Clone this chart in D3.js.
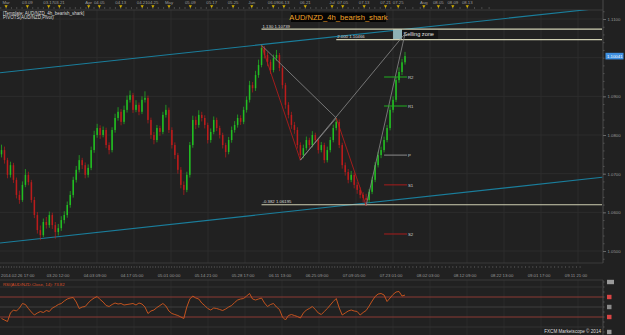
<!DOCTYPE html>
<html>
<head>
<meta charset="utf-8">
<script src="https://cdnjs.cloudflare.com/ajax/libs/d3/7.8.5/d3.min.js"></script>
<style>
  body { margin: 0; background: #212121; }
  svg { display: block; font-family: "Liberation Sans", Arial, sans-serif; }
</style>
</head>
<body>
<div id="chart"></div>
<script>
// ---- Data ----
const firstOpen = 1.0750;
const closes = [
  1.0761,1.0735,1.0697,1.0722,1.0684,1.0645,1.0632,1.0671,1.0697,1.0678,
  1.0632,1.0593,1.0554,1.0541,1.0575,1.0567,1.0593,1.0567,1.0549,1.0559,
  1.0580,1.0593,1.0619,1.0645,1.0684,1.0710,1.0735,1.0722,1.0697,1.0715,
  1.0761,1.0800,1.0818,1.0800,1.0813,1.0774,1.0761,1.0813,1.0844,1.0860,
  1.0834,1.0865,1.0891,1.0903,1.0865,1.0878,1.0860,1.0891,1.0896,1.0839,
  1.0800,1.0787,1.0818,1.0808,1.0852,1.0865,1.0813,1.0774,1.0748,1.0710,
  1.0671,1.0658,1.0697,1.0774,1.0839,1.0826,1.0852,1.0844,1.0826,1.0787,
  1.0808,1.0839,1.0818,1.0800,1.0774,1.0756,1.0787,1.0813,1.0826,1.0844,
  1.0834,1.0865,1.0891,1.0929,1.0921,1.0955,1.0981,1.1025,1.1007,1.0989,
  1.0968,1.0999,1.1007,1.0973,1.0929,1.0878,1.0852,1.0826,1.0813,1.0774,
  1.0748,1.0766,1.0787,1.0774,1.0800,1.0787,1.0761,1.0774,1.0735,1.0761,
  1.0787,1.0818,1.0834,1.0774,1.0722,1.0704,1.0684,1.0697,1.0671,1.0658,
  1.0645,1.0637,1.0632,1.0653,1.0684,1.0722,1.0748,1.0761,1.0787,1.0818,
  1.0865,1.0891,1.0942,1.0963,1.0988,1.1004
];
const highs = [
  1.0775,1.0770,1.0741,1.0731,1.0728,1.0690,1.0656,1.0680,1.0712,1.0705,
  1.0684,1.0640,1.0601,1.0566,1.0584,1.0588,1.0602,1.0599,1.0575,1.0570,
  1.0590,1.0603,1.0628,1.0655,1.0692,1.0720,1.0748,1.0741,1.0729,1.0724,
  1.0770,1.0811,1.0829,1.0825,1.0822,1.0819,1.0781,1.0820,1.0855,1.0872,
  1.0867,1.0876,1.0902,1.0915,1.0909,1.0890,1.0884,1.0900,1.0913,1.0902,
  1.0845,1.0808,1.0826,1.0824,1.0860,1.0878,1.0871,1.0820,1.0781,1.0754,
  1.0717,1.0680,1.0705,1.0782,1.0850,1.0848,1.0864,1.0860,1.0851,1.0832,
  1.0817,1.0848,1.0845,1.0824,1.0806,1.0780,1.0795,1.0822,1.0836,1.0853,
  1.0851,1.0873,1.0900,1.0940,1.0937,1.0966,1.0995,1.1032,1.1030,1.1014,
  1.0995,1.1008,1.1020,1.1012,1.0979,1.0935,1.0885,1.0860,1.0834,1.0820,
  1.0781,1.0775,1.0796,1.0793,1.0810,1.0806,1.0793,1.0782,1.0780,1.0770,
  1.0795,1.0827,1.0844,1.0840,1.0780,1.0729,1.0712,1.0707,1.0703,1.0678,
  1.0665,1.0652,1.0648,1.0660,1.0692,1.0730,1.0757,1.0770,1.0796,1.0826,
  1.0872,1.0900,1.0950,1.0975,1.0997,1.1015
];
const lows = [
  1.0742,1.0726,1.0688,1.0690,1.0676,1.0636,1.0622,1.0627,1.0665,1.0670,
  1.0625,1.0585,1.0545,1.0528,1.0536,1.0558,1.0560,1.0557,1.0532,1.0540,
  1.0552,1.0571,1.0586,1.0612,1.0638,1.0677,1.0703,1.0712,1.0688,1.0690,
  1.0709,1.0754,1.0793,1.0790,1.0794,1.0766,1.0750,1.0755,1.0806,1.0837,
  1.0825,1.0828,1.0858,1.0884,1.0857,1.0859,1.0851,1.0854,1.0884,1.0830,
  1.0790,1.0776,1.0781,1.0798,1.0802,1.0845,1.0805,1.0765,1.0738,1.0700,
  1.0662,1.0645,1.0652,1.0690,1.0767,1.0815,1.0819,1.0835,1.0817,1.0778,
  1.0780,1.0802,1.0810,1.0791,1.0765,1.0742,1.0750,1.0780,1.0806,1.0819,
  1.0826,1.0828,1.0858,1.0884,1.0910,1.0914,1.0948,1.0975,1.0998,1.0978,
  1.0958,1.0962,1.0992,1.0965,1.0920,1.0868,1.0843,1.0816,1.0803,1.0765,
  1.0735,1.0740,1.0760,1.0765,1.0768,1.0779,1.0752,1.0755,1.0727,1.0729,
  1.0755,1.0781,1.0812,1.0766,1.0713,1.0695,1.0675,1.0678,1.0662,1.0648,
  1.0636,1.0626,1.0617,1.0625,1.0647,1.0678,1.0716,1.0740,1.0755,1.0781,
  1.0812,1.0858,1.0885,1.0935,1.0955,1.0982
];
const rsiValues = [
  27,24,21,38,44,42,48,57,55,47,
  40,34,38,41,39,43,41,48,51,55,
  57,62,66,68,69,60,47,50,51,58,
  64,68,71,65,60,53,51,55,58,56,
  57,54,55,56,57,54,58,56,50,37,
  42,44,49,53,57,52,42,37,35,33,
  30,27,50,66,72,68,66,58,53,47,
  44,48,47,45,43,46,50,53,59,64,
  66,67,72,77,66,64,66,68,58,51,
  55,57,50,45,30,24,33,35,33,31,
  28,38,44,47,51,45,38,35,41,47,
  54,61,67,48,34,38,42,44,42,41,
  34,39,43,52,62,71,76,77,74,61,
  68,75,80,81,72,73.82
];
const priceTicks = [1.05, 1.06, 1.07, 1.08, 1.09, 1.11];
const priceGrid = [1.05, 1.06, 1.07, 1.08, 1.09, 1.10, 1.11];

const bottomLabels = ["2014.02.26 17:00", "03.20 12:00", "04.03 09:00", "04.17 05:00", "05.01 00:00",
  "05.14 21:00", "05.28 17:00", "06.11 13:00", "06.25 09:00", "07.09 05:00", "07.23 01:00",
  "08.02 03:00", "08.12 09:00", "08.22 13:00", "09.01 17:00", "09.11 21:00"];
const topLabels = ["Mar", "03.09", "03.17", "03.21", "Apr", "04.05", "04.13", "04.21", "04.25", "May",
  "05.09", "05.17", "05.25", "Jun", "06.09", "06.13", "06.21", "Jul", "07.05", "07.13", "07.21",
  "07.25", "Aug", "08.05", "08.09", "08.13"];
const topDates = ["2014-03-01", "2014-03-09", "2014-03-17", "2014-03-21", "2014-04-01", "2014-04-05",
  "2014-04-13", "2014-04-21", "2014-04-25", "2014-05-01", "2014-05-09", "2014-05-17", "2014-05-25",
  "2014-06-01", "2014-06-09", "2014-06-13", "2014-06-21", "2014-07-01", "2014-07-05", "2014-07-13",
  "2014-07-21", "2014-07-25", "2014-08-01", "2014-08-05", "2014-08-09", "2014-08-13"];

// shark pattern points (bar index, price)
const patternPoints = { X: [87, 1.1032], A: [100, 1.0735], B: [112, 1.0844], C: [122, 1.0617], D: [135, 1.1062] };
const patternLegs = [["X", "A"], ["X", "B"], ["A", "B"], ["B", "C"], ["C", "D"], ["A", "D"]];
const fibLevels = [
  { label: "1.130 1.10739", value: 1.10739, from: 87 },
  { label: "2.000 1.10466", value: 1.10466, from: 112 },
  { label: "-0.382 1.06195", value: 1.06195, from: 87 }
];
const pivotNames = ["R2", "R1", "P", "S1", "S2"];
const pivotValues = [1.0950, 1.0875, 1.0748, 1.0671, 1.0544];
const channelUpper = [[-0.5, 1.09611], [201, 1.11284]];
const channelLower = [[-0.5, 1.05207], [201, 1.06906]];
const zoneFrom = 131, zoneTo = 134;

// ---- Layout ----
const W = 625, H = 335;
const plotRight = 603, plotTop = 10, plotBottom = 263;
const rsiTop = 280, rsiBottom = 335;
const font = "4.3px";

const svg = d3.select("#chart").append("svg")
  .attr("width", W)
  .attr("height", H)
  .style("background", "#212121");

svg.append("defs").append("clipPath")
  .attr("id", "plotClip")
  .append("rect")
  .attr("x", 0).attr("y", plotTop)
  .attr("width", plotRight).attr("height", plotBottom - plotTop);

const x = d3.scaleLinear().domain([0, closes.length - 1]).range([1.5, 405]);
const y = d3.scaleLinear().domain([1.05, 1.11]).range([251, 19]);
const rsiY = d3.scaleLinear().domain([0, 100]).range([332, 282]);

// time axis: evenly spaced slots, first label clamped to the left edge
const parseDate = d3.timeParse("%Y.%m.%d %H:%M");
const bottomDates = bottomLabels.map((d, k) => parseDate(k === 0 ? d : "2014." + d));
const slot = d3.scaleLinear().domain([0, bottomLabels.length - 1]).range([21, 576]);
const time = d3.scaleTime()
  .domain(bottomDates)
  .range(bottomDates.map((d, k) => k === 0 ? 0 : slot(k)));

// ---- Grid ----
const grid = svg.append("g");
d3.range(bottomLabels.length).forEach(k => {
  grid.append("line")
    .attr("x1", slot(k) + 2).attr("x2", slot(k) + 2)
    .attr("y1", plotTop).attr("y2", plotBottom)
    .attr("stroke", "#2d2d2d");
  grid.append("line")
    .attr("x1", slot(k) + 2).attr("x2", slot(k) + 2)
    .attr("y1", rsiTop).attr("y2", rsiBottom)
    .attr("stroke", "#2b2b2b");
});
grid.selectAll(".hgrid")
  .data(priceGrid)
  .join("line")
  .attr("x1", 0).attr("x2", plotRight)
  .attr("y1", d => y(d)).attr("y2", d => y(d))
  .attr("stroke", "#2d2d2d");

// borders
svg.append("line").attr("x1", 0).attr("x2", plotRight).attr("y1", plotTop).attr("y2", plotTop).attr("stroke", "#3a3a3a");
svg.append("line").attr("x1", 0).attr("x2", plotRight).attr("y1", plotBottom).attr("y2", plotBottom).attr("stroke", "#3a3a3a");
svg.append("line").attr("x1", plotRight).attr("x2", plotRight).attr("y1", 0).attr("y2", plotBottom).attr("stroke", "#4a4a4a");
svg.append("line").attr("x1", 0).attr("x2", plotRight).attr("y1", rsiTop).attr("y2", rsiTop).attr("stroke", "#3a3a3a");
svg.append("line").attr("x1", plotRight).attr("x2", plotRight).attr("y1", rsiTop).attr("y2", rsiBottom).attr("stroke", "#4a4a4a");

// ---- Top time strip ----
const topStrip = svg.append("g");
topStrip.selectAll(".tick2")
  .data(d3.timeDay.every(2).range(new Date(2014, 1, 27), new Date(2014, 7, 20)))
  .join("line")
  .attr("x1", d => time(d)).attr("x2", d => time(d))
  .attr("y1", 7).attr("y2", 9)
  .attr("stroke", "#4a4a4a");
topLabels.forEach((label, k) => {
  const tx = time(d3.timeParse("%Y-%m-%d")(topDates[k]));
  topStrip.append("text")
    .attr("x", tx).attr("y", 3.8)
    .attr("text-anchor", "middle")
    .style("font-size", font)
    .attr("fill", "#9a9a9a")
    .text(label);
  topStrip.append("path")
    .attr("d", `M${tx - 1.6},5.3L${tx + 1.6},5.3L${tx},8z`)
    .attr("fill", "#d6b200");
});

// ---- Main plot (clipped) ----
const main = svg.append("g").attr("clip-path", "url(#plotClip)");
const line = d3.line().x(d => x(d[0])).y(d => y(d[1]));

// channel lines
[channelUpper, channelLower].forEach(ch => {
  main.append("path")
    .attr("d", line(ch))
    .attr("fill", "none")
    .attr("stroke", "#1a7e9c")
    .attr("stroke-width", 1.1);
});

// selling zone
const zoneTop = y(fibLevels[0].value), zoneBottom = y(fibLevels[1].value);
main.append("rect")
  .attr("x", x(zoneFrom)).attr("y", zoneTop)
  .attr("width", x(zoneTo) - x(zoneFrom)).attr("height", zoneBottom - zoneTop)
  .attr("fill", "#8fb2b6");
main.append("rect")
  .attr("x", x(zoneTo)).attr("y", zoneTop)
  .attr("width", 36).attr("height", zoneBottom - zoneTop)
  .attr("fill", "#141414");
main.append("text")
  .attr("x", x(zoneTo) + 1.5).attr("y", (zoneTop + zoneBottom) / 2 + 2)
  .style("font-size", "5.6px")
  .attr("fill", "#e2e2e2")
  .text("Selling zone");

// fib levels
fibLevels.forEach(f => {
  main.append("line")
    .attr("x1", x(f.from)).attr("x2", plotRight - 1)
    .attr("y1", y(f.value)).attr("y2", y(f.value))
    .attr("stroke", "#cfcfb2")
    .attr("stroke-width", 1.1);
  main.append("text")
    .attr("x", x(f.from) + 1).attr("y", y(f.value) - 1.5)
    .style("font-size", font)
    .attr("fill", "#dcdcdc")
    .text(f.label);
});

// candles
const bars = closes.map((c, i) => ({ i, o: i === 0 ? firstOpen : closes[i - 1], c, h: highs[i], l: lows[i] }));
const candles = main.append("g").selectAll("g")
  .data(bars)
  .join("g")
  .attr("stroke", d => d.c >= d.o ? "#22bf22" : "#bb1c1c")
  .attr("fill", d => d.c >= d.o ? "#22bf22" : "#bb1c1c");
candles.append("line")
  .attr("x1", d => x(d.i)).attr("x2", d => x(d.i))
  .attr("y1", d => y(d.h)).attr("y2", d => y(d.l))
  .attr("stroke-width", 0.7);
candles.append("rect")
  .attr("x", d => x(d.i) - 0.75)
  .attr("y", d => y(Math.max(d.o, d.c)))
  .attr("width", 1.5)
  .attr("height", d => Math.max(1, Math.abs(y(d.o) - y(d.c))))
  .attr("stroke", "none");

// pattern legs
const legColor = { "X-A": "#c21a1a", "B-C": "#c21a1a" };
patternLegs.forEach(([a, b]) => {
  main.append("path")
    .attr("d", line([patternPoints[a], patternPoints[b]]))
    .attr("stroke", legColor[a + "-" + b] || "#8a8a8a")
    .attr("stroke-width", 0.8)
    .attr("fill", "none");
});

// pivots
const pivotColor = { R2: "#20b020", R1: "#20b020", P: "#8c8c8c", S1: "#a81c1c", S2: "#a81c1c" };
const pivotStart = 128;
pivotNames.forEach((name, k) => {
  const py = y(pivotValues[k]);
  const xEnd = x(closes.length - 1) + 2;
  main.append("line")
    .attr("x1", x(pivotStart)).attr("x2", xEnd)
    .attr("y1", py).attr("y2", py)
    .attr("stroke", pivotColor[name])
    .attr("stroke-width", 1);
  main.append("text")
    .attr("x", xEnd + 1).attr("y", py + 2)
    .style("font-size", font)
    .attr("fill", "#cfcfcf")
    .text(name);
});

// ---- Overlay texts ----
svg.append("text").attr("x", 3).attr("y", 14.8).style("font-size", "4.5px").attr("fill", "#dadada")
  .text("[Template: AUD/NZD_4h_bearish_shark]");
svg.append("text").attr("x", 3).attr("y", 18.6).style("font-size", "4.5px").attr("fill", "#dadada")
  .text("PIVOTS(AUD/NZD,Pivot)");
svg.append("rect").attr("x", 291).attr("y", 12.5).attr("width", 95).attr("height", 9.5).attr("fill", "#050505");
svg.append("text").attr("x", 338.5).attr("y", 20.2).attr("text-anchor", "middle")
  .style("font-size", "7.6px").attr("fill", "#f2a328")
  .text("AUD/NZD_4h_bearish_shark");

// ---- Right price axis ----
const yAxis = svg.append("g")
  .attr("transform", `translate(${plotRight},0)`)
  .call(d3.axisRight(y).tickValues(d3.range(1.048, 1.1121, 0.002)).tickSize(1.5).tickFormat(""));
yAxis.call(g => g.select(".domain").remove());
yAxis.selectAll("line").attr("stroke", "#555");
const yLabels = svg.append("g")
  .attr("transform", `translate(${plotRight},0)`)
  .call(d3.axisRight(y).tickValues(priceTicks).tickSize(3).tickFormat(d3.format(".4f")));
yLabels.select(".domain").remove();
yLabels.selectAll("line").attr("stroke", "#666");
yLabels.selectAll("text").attr("fill", "#9a9a9a").style("font-size", font).attr("x", 4.5);

// current price tag
const last = closes[closes.length - 1];
svg.append("rect").attr("x", 605.5).attr("y", y(last) - 3.3).attr("width", 18).attr("height", 6.6).attr("fill", "#3e8fe0");
svg.append("text").attr("x", 607).attr("y", y(last) + 1.6).style("font-size", font).attr("fill", "#ffffff")
  .text(d3.format(".5f")(1.10041));

// ---- Bottom time axis ----
svg.append("g").selectAll("line")
  .data(d3.timeDay.every(1).range(new Date(2014, 1, 27), new Date(2014, 8, 14)))
  .join("line")
  .attr("x1", d => time(d)).attr("x2", d => time(d))
  .attr("y1", plotBottom + 3).attr("y2", plotBottom + 5)
  .attr("stroke", "#444");
svg.append("g").selectAll("text")
  .data(bottomLabels)
  .join("text")
  .attr("x", (d, k) => k === 0 ? 1 : slot(k))
  .attr("y", 276.5)
  .attr("text-anchor", (d, k) => k === 0 ? "start" : "middle")
  .style("font-size", font)
  .attr("fill", "#9a9a9a")
  .text(d => d);

// ---- RSI panel ----
const rsiLevels = [90, 70, 50, 30, 10];
const rsiLevelColor = { 90: "#333", 70: "#8c3a34", 50: "#3f3f3f", 30: "#8c3a34", 10: "#333" };
svg.append("g").selectAll("line")
  .data(rsiLevels)
  .join("line")
  .attr("x1", 0).attr("x2", plotRight)
  .attr("y1", d => rsiY(d)).attr("y2", d => rsiY(d))
  .attr("stroke", d => rsiLevelColor[d]);

svg.append("path")
  .datum(rsiValues)
  .attr("d", d3.line().x((d, i) => x(i)).y(d => rsiY(d)))
  .attr("fill", "none")
  .attr("stroke", "#d4581e")
  .attr("stroke-width", 0.9);

svg.append("text").attr("x", 3).attr("y", 285.5).style("font-size", font).attr("fill", "#d9502a")
  .text("RSI(AUD/NZD.Close, 14): " + d3.format(".2f")(rsiValues[rsiValues.length - 1]));

// RSI scale markers
const rsiMarks = [100, 70, 50, 30, 0];
const rsiMarkColor = { 100: "#9a9a9a", 70: "#d84444", 50: "#8a8a8a", 30: "#d84444", 0: "#9a9a9a" };
svg.append("g").selectAll("rect")
  .data(rsiMarks)
  .join("rect")
  .attr("x", 607)
  .attr("y", d => rsiY(d) - 2.2)
  .attr("width", d => d === 100 ? 7 : 4.5)
  .attr("height", 4.4)
  .attr("fill", d => rsiMarkColor[d]);
svg.append("g").selectAll("line")
  .data(d3.range(0, 101, 10))
  .join("line")
  .attr("x1", plotRight).attr("x2", plotRight + 1.5)
  .attr("y1", d => rsiY(d)).attr("y2", d => rsiY(d))
  .attr("stroke", "#555");

svg.append("text").attr("x", 601).attr("y", 333).attr("text-anchor", "end")
  .style("font-size", "4.6px").attr("fill", "#dddddd")
  .text("FXCM Marketscope © 2014");
</script>
</body>
</html>
